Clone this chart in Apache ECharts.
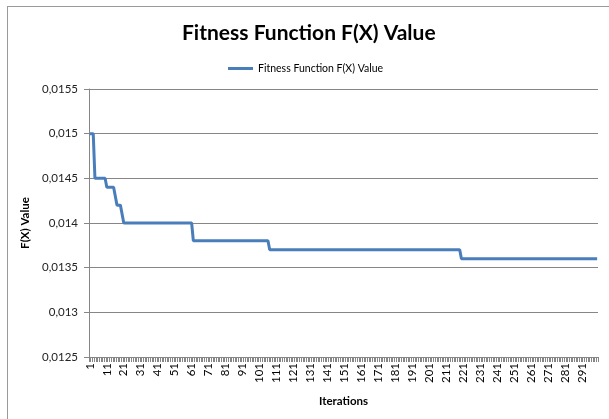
<!DOCTYPE html>
<html>
<head>
<meta charset="utf-8">
<script src="https://cdn.jsdelivr.net/npm/echarts@6/dist/echarts.min.js"></script>
<style>
  html, body { margin: 0; padding: 0; background: #fff; }
  #chart { width: 609px; height: 419px; }
</style>
</head>
<body>
<div id="chart"></div>
<script>
// step runs: value holds up to (and including) the iteration in stepEnds
const stepEnds = [3, 10, 16, 20, 61, 106, 219, 300];
const stepValues = [0.015, 0.0145, 0.0144, 0.0142, 0.014, 0.0138, 0.0137, 0.0136];
const seriesName = 'Fitness Function F(X) Value';

const iterations = [];
const fitness = [];
let run = 0;
for (let i = 1; i <= stepEnds[stepEnds.length - 1]; i++) {
  if (i > stepEnds[run]) run++;
  iterations.push(String(i));
  fitness.push(stepValues[run]);
}

const chart = echarts.init(document.getElementById('chart'));
const fontFamily = 'Lato, "Liberation Sans", sans-serif';

const option = {
  backgroundColor: '#fff',
  animation: false,
  textStyle: {fontFamily: fontFamily},
  title: {
    text: seriesName,
    left: 177,
    top: 18,
    textStyle: {fontSize: 21, fontWeight: 'bold', color: '#000', fontFamily: fontFamily}
  },
  legend: {
    top: 58,
    left: 223,
    icon: 'rect',
    itemWidth: 25,
    itemHeight: 3,
    itemGap: 5,
    textStyle: {fontSize: 10.5, color: '#000', fontFamily: fontFamily},
    data: [seriesName]
  },
  grid: {left: 89, right: 11, top: 89, bottom: 62, containLabel: false},
  xAxis: {
    type: 'category',
    data: iterations,
    boundaryGap: true,
    name: 'Iterations',
    nameLocation: 'middle',
    nameGap: 38,
    nameTextStyle: {fontSize: 11.5, fontWeight: 'bold', color: '#000'},
    axisLine: {lineStyle: {color: '#868686', width: 1}},
    axisTick: {show: true, interval: 0, length: 5, alignWithLabel: false, lineStyle: {color: '#868686'}},
    axisLabel: {interval: 9, rotate: 90, fontSize: 11.5, color: '#000', margin: 6},
    splitLine: {show: false}
  },
  yAxis: {
    type: 'value',
    min: 0.0125,
    max: 0.0155,
    interval: 0.0005,
    name: 'F(X) Value',
    nameLocation: 'middle',
    nameGap: 52,
    nameRotate: 90,
    nameTextStyle: {fontSize: 11.5, fontWeight: 'bold', color: '#000'},
    axisLine: {show: true, lineStyle: {color: '#868686', width: 1}},
    axisTick: {show: true, length: 5, lineStyle: {color: '#868686'}},
    axisLabel: {
      fontSize: 11.5,
      color: '#222',
      margin: 11,
      formatter: v => String(+v.toFixed(4)).replace('.', ',')
    },
    splitLine: {lineStyle: {color: '#868686', width: 1}}
  },
  series: [{
    name: seriesName,
    type: 'line',
    data: fitness,
    symbol: 'none',
    lineStyle: {color: '#4A7EBB', width: 3},
    itemStyle: {color: '#4A7EBB'}
  }],
  graphic: [
    {type: 'line', shape: {x1: 7, y1: 6.5, x2: 609, y2: 6.5}, style: {stroke: '#9a9a9a', lineWidth: 1}},
    {type: 'line', shape: {x1: 7.5, y1: 6, x2: 7.5, y2: 419}, style: {stroke: '#9a9a9a', lineWidth: 1}}
  ]
};

chart.setOption(option);
</script>
</body>
</html>
